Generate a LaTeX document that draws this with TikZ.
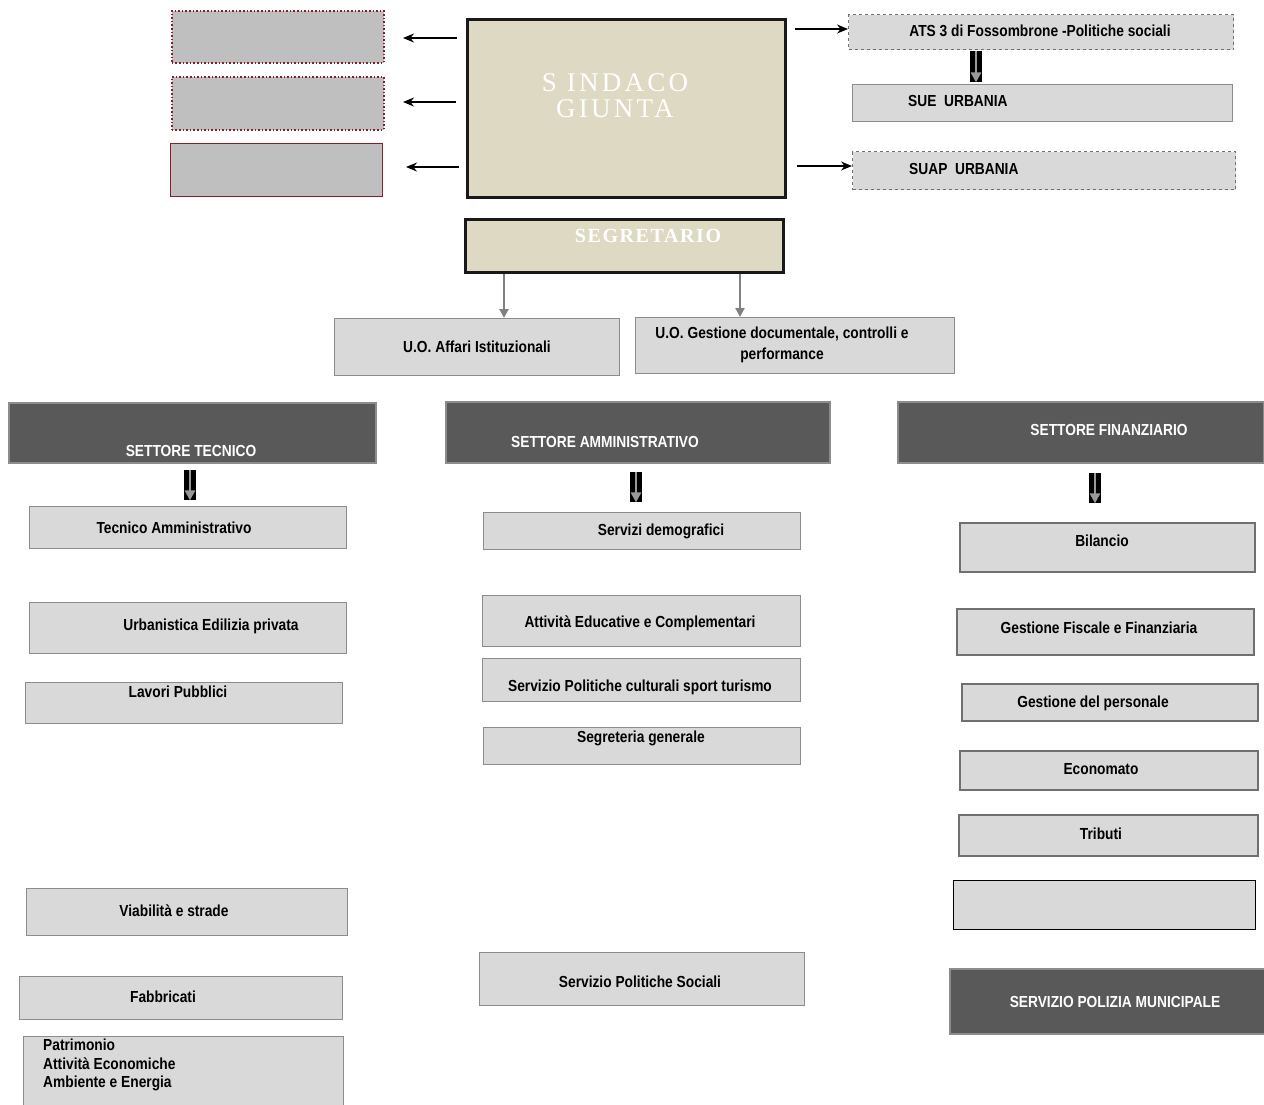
\documentclass[tikz,border=0pt]{standalone}
\usepackage{fontspec}
\setmainfont{Liberation Sans}[FakeStretch=0.86]
\newfontfamily\serifL{Liberation Serif}[LetterSpace=12]
\newfontfamily\serifB{Liberation Serif}[LetterSpace=8]
\usetikzlibrary{arrows.meta}
\definecolor{boxfill}{HTML}{D9D9D9}
\definecolor{boxline}{HTML}{8C8C8C}
\definecolor{redfill}{HTML}{BFBFBF}
\definecolor{redline}{HTML}{8B1C2C}
\definecolor{beige}{HTML}{DDD9C3}
\definecolor{darkhead}{HTML}{595959}
\newcommand\bx[6]{%
  \pgfmathsetmacro\bw{#5-#3}\pgfmathsetmacro\bh{#6-#4}%
  \node[#1, minimum width=\bw pt, minimum height=\bh pt, anchor=north west] (#2) at (#3,#4) {};}
\newcommand\blockarrow[4]{% name, x, ytop, ybottom
  \pgfmathsetmacro\bh{#4-#3}%
  \node[fill=black, minimum width=12pt, minimum height=\bh pt, inner sep=0, anchor=north] (#1) at (#2,#3) {};
  \draw[gray!80, line width=2.5pt, -{Triangle[width=10pt,length=10pt]}] (#1.north) -- (#1.south);}
\tikzset{
  lbox/.style={draw=boxline, fill=boxfill, line width=1.2pt, inner sep=0},
  rbox/.style={draw=boxline!80!black, fill=boxfill, line width=1.6pt, inner sep=0},
  dbox/.style={draw=boxline!80!black, fill=boxfill, line width=1.2pt, dashed, inner sep=0},
  redbox/.style={draw=redline, fill=redfill, line width=1.6pt, dotted, inner sep=0},
  redsolid/.style={draw=redline, fill=redfill, line width=1.4pt, inner sep=0},
  beigebox/.style={draw=black!90, fill=beige, line width=3pt, inner sep=0},
  head/.style={draw=boxline, fill=darkhead, line width=1.6pt, inner sep=0},
  txt/.style={font=\bfseries\fontsize{16}{19}\selectfont, inner sep=0, align=center},
  wtxt/.style={txt, text=white},
  arr/.style={line width=1.5pt, -{Stealth[length=11pt,width=9pt]}},
  garr/.style={draw=gray, line width=2pt, -{Triangle[length=9pt,width=9pt]}, color=gray}
}
\begin{document}
\begin{tikzpicture}[x=1pt,y=-1pt]
\useasboundingbox (0,0) rectangle (1264,1104);
% top left
\bx{redbox}{l1}{171}{10}{383}{62}
\bx{redbox}{l2}{171}{76}{383}{129}
\bx{redsolid}{l3}{170}{143}{382}{196}
% sindaco
\bx{beigebox}{sind}{466}{18}{784}{196}
\node[inner sep=0, text=white, align=center, font=\serifL\fontsize{27}{26}\selectfont] (sindt) at (615,96) {S INDACO\\GIUNTA};
\bx{beigebox}{segr}{464}{218}{782}{271}
\node[inner sep=0, text=white, font=\serifB\bfseries\fontsize{20}{24}\selectfont] (segrt) at (648,236) {SEGRETARIO};
\coordinate (a1s) at (457,38); \coordinate (a1e) at (403,38);
\coordinate (a2s) at (456,102); \coordinate (a2e) at (403,102);
\coordinate (a3s) at (459,167); \coordinate (a3e) at (406,167);
\draw[arr] (a1s) -- (a1e);
\draw[arr] (a2s) -- (a2e);
\draw[arr] (a3s) -- (a3e);
% top right
\bx{dbox}{ats}{848}{14}{1233}{49}
\node[txt] (atst) at (1040,31) {ATS 3 di Fossombrone -Politiche sociali};
\bx{lbox}{sue}{852}{84}{1232}{121}
\node[txt, anchor=west] (suet) at (908,101) {SUE\ \ URBANIA};
\bx{dbox}{suap}{852}{151}{1235}{189}
\node[txt, anchor=west] (suapt) at (909,169) {SUAP\ \ URBANIA};
\coordinate (b1s) at (795,29); \coordinate (b2s) at (797,166);
\draw[arr] (b1s) -- (b1s -| ats.west);
\draw[arr] (b2s) -- (b2s -| suap.west);
\blockarrow{ba0}{976}{51}{82}
% segretario children
\bx{lbox}{uoa}{334}{318}{619}{375}
\node[txt] (uoat) at (477,347) {U.O. Affari Istituzionali};
\bx{lbox}{uog}{635}{317}{954}{373}
\node[txt, font=\bfseries\fontsize{16}{21}\selectfont] (uogt) at (782,345) {U.O. Gestione documentale, controlli e\\performance};
\draw[garr] (segr.south -| 504,0) -- (uoa.north -| 504,0);
\draw[garr] (segr.south -| 740,0) -- (uog.north -| 740,0);
% headers
\bx{head}{st}{8}{402}{375}{462}
\node[wtxt] (stt) at (191,451) {SETTORE TECNICO};
\bx{head}{sa}{445}{401}{829}{462}
\node[wtxt] (sat) at (605,442) {SETTORE AMMINISTRATIVO};
\bx{head}{sf}{897}{401}{1263}{462}
\node[wtxt] (sft) at (1109,430) {SETTORE FINANZIARIO};
\blockarrow{ba1}{190}{470}{500}
\blockarrow{ba2}{636}{472}{502}
\blockarrow{ba3}{1095}{473}{503}
% left column
\bx{lbox}{ta}{29}{506}{346}{548}
\node[txt] (tat) at (174,528) {Tecnico Amministrativo};
\bx{lbox}{ue}{29}{602}{346}{653}
\node[txt] (uet) at (211,626) {Urbanistica Edilizia privata};
\bx{lbox}{lp}{25}{682}{342}{723}
\node[txt] (lpt) at (178,692) {Lavori Pubblici};
\bx{lbox}{vs}{26}{888}{347}{935}
\node[txt] (vst) at (174,911) {Viabilità e strade};
\bx{lbox}{fb}{19}{976}{342}{1019}
\node[txt] (fbt) at (163,997) {Fabbricati};
\bx{lbox}{pa}{23}{1036}{343}{1112}
\node[txt, align=left, anchor=north west, font=\bfseries\fontsize{16}{18.5}\selectfont] (pat) at (43,1039) {Patrimonio\\Attività Economiche\\Ambiente e Energia};
% middle column
\bx{lbox}{sd}{483}{512}{800}{549}
\node[txt] (sdt) at (661,531) {Servizi demografici};
\bx{lbox}{ae}{482}{595}{800}{646}
\node[txt] (aet) at (640,623) {Attività Educative e Complementari};
\bx{lbox}{pc}{482}{658}{800}{701}
\node[txt] (pct) at (640,687) {Servizio Politiche culturali sport turismo};
\bx{lbox}{sg}{483}{727}{800}{764}
\node[txt] (sgt) at (641,738) {Segreteria generale};
\bx{lbox}{ps}{479}{952}{804}{1005}
\node[txt] (pst) at (640,982) {Servizio Politiche Sociali};
% right column
\bx{rbox}{bi}{959}{522}{1254}{571}
\node[txt] (bit) at (1102,541) {Bilancio};
\bx{rbox}{gf}{956}{608}{1253}{654}
\node[txt] (gft) at (1099,628) {Gestione Fiscale e Finanziaria};
\bx{rbox}{gp}{961}{683}{1257}{720}
\node[txt] (gpt) at (1093,703) {Gestione del personale};
\bx{rbox}{ec}{959}{750}{1257}{789}
\node[txt] (ect) at (1101,769) {Economato};
\bx{rbox}{tr}{958}{814}{1257}{855}
\node[txt] (trt) at (1101,834) {Tributi};
\bx{lbox, draw=black}{em}{953}{880}{1255}{929}
\bx{head}{pm}{949}{968}{1266}{1033}
\node[wtxt] (pmt) at (1115,1002) {SERVIZIO POLIZIA MUNICIPALE};
\end{tikzpicture}
\end{document}
